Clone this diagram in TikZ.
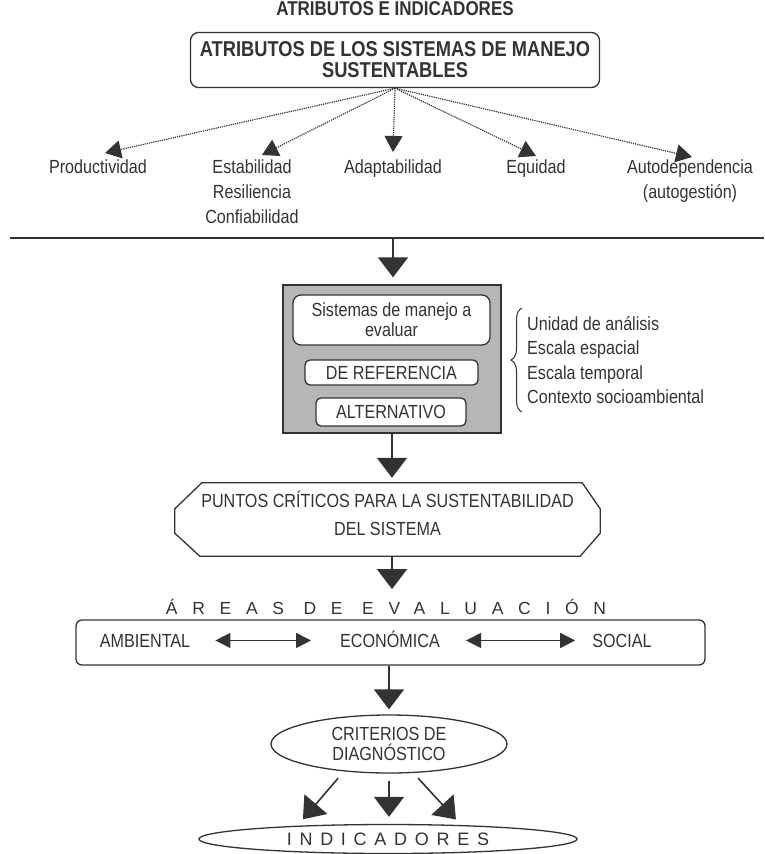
\documentclass[tikz,border=0pt]{standalone}
\usepackage{fontspec}
\setmainfont{Liberation Sans}[FakeStretch=0.85]
\newfontfamily\spacedfont{Liberation Sans}
\usetikzlibrary{arrows.meta,shapes.geometric,decorations.pathreplacing}
\definecolor{ink}{HTML}{333333}
\definecolor{shade}{HTML}{B6B6B6}
\tikzset{
  txt/.style={inner sep=0pt,text=ink,font=\fontsize{19}{25}\selectfont,align=center},
  rbox/.style={draw=ink,line width=1.3pt,rounded corners=8pt,fill=white,inner sep=0pt},
  flow/.style={draw=ink,line width=1.6pt,-{Triangle[length=20pt,width=30pt]}},
  dots/.style={draw=ink,line width=1.2pt,densely dotted,-{Triangle[length=16pt,width=18pt]}},
  both/.style={draw=ink,line width=1.2pt,{Triangle[length=15pt,width=15pt]}-{Triangle[length=15pt,width=15pt]}},
}
\begin{document}
\begin{tikzpicture}[x=1pt,y=-1pt]
\useasboundingbox (0,0) rectangle (764,854);
%header
\node[txt,anchor=base,font=\bfseries\fontsize{20}{22}\selectfont] (hdr) at (395,15) {ATRIBUTOS E INDICADORES};
%attributes
\node[rbox,txt,minimum width=409pt,minimum height=55pt,font=\bfseries\fontsize{21.5}{21}\selectfont] (attr) at (395,60) {ATRIBUTOS DE LOS SISTEMAS DE MANEJO\\SUSTENTABLES};
\node[txt,anchor=north] (prod) at (98,160) {Productividad};
\node[txt,anchor=north] (estab) at (252,160) {Estabilidad\\Resiliencia\\Confiabilidad};
\node[txt,anchor=north] (adapt) at (393,160) {Adaptabilidad};
\node[txt,anchor=north] (equi) at (536,160) {Equidad};
\node[txt,anchor=north] (auto) at (690,160) {Autodependencia\\(autogestión)};
\draw[dots] (attr.south) -- ([shift={(7,-7)}]prod.north);
\draw[dots] (attr.south) -- ([shift={(10,-5)}]estab.north);
\draw[dots] (attr.south) -- ([shift={(0,-8)}]adapt.north);
\draw[dots] (attr.south) -- ([shift={(0,-4)}]equi.north);
\draw[dots] (attr.south) -- ([shift={(2,-3)}]auto.north);
%rule
\draw[draw=ink,line width=1.3pt] (10,238) -- (764,238);
\coordinate (split) at (393,238);
%systems
\node[draw=ink,line width=1.3pt,fill=shade,minimum width=218pt,minimum height=148pt,inner sep=0pt] (sys) at (392,359) {};
\node[rbox,txt,minimum width=197pt,minimum height=50pt,font=\fontsize{19}{20}\selectfont] (sis) at (391.5,320) {Sistemas de manejo a\\evaluar};
\node[rbox,txt,minimum width=173pt,minimum height=25pt,rounded corners=5pt] (ref) at (391.5,372.5) {DE REFERENCIA};
\node[rbox,txt,minimum width=150pt,minimum height=28pt,rounded corners=5pt] (alt) at (391,412) {ALTERNATIVO};
\node[txt,align=left,anchor=north west,font=\fontsize{19}{24.5}\selectfont] (ctx) at (527,316) {Unidad de análisis\\Escala espacial\\Escala temporal\\Contexto socioambiental};
\draw[draw=ink,line width=1pt,decorate,decoration={brace,amplitude=11pt}] ([shift={(-5,8)}]ctx.south west) -- ([shift={(-5,-8)}]ctx.north west);
\draw[flow,shorten >=7pt] (split) -- (split |- sys.north);
%critical points
\node[txt,minimum width=425pt,minimum height=73pt,font=\fontsize{19}{28}\selectfont] (crit) at (387.5,519.5) {PUNTOS CRÍTICOS PARA LA SUSTENTABILIDAD\\DEL SISTEMA\rule[-12pt]{0pt}{0pt}};
\draw[draw=ink,line width=1.3pt] ([shift={(27,0)}]crit.north west) -- ([shift={(-18,0)}]crit.north east) -- ([shift={(0,26)}]crit.north east) -- ([shift={(0,-23)}]crit.south east) -- ([shift={(-20,0)}]crit.south east) -- ([shift={(25,0)}]crit.south west) -- ([shift={(0,-23)}]crit.south west) -- ([shift={(0,26)}]crit.north west) -- cycle;
\draw[flow,shorten >=5pt] (sys.south) -- (sys.south |- crit.north);
%areas
\node[txt,font=\spacedfont\fontsize{17.5}{20}\selectfont\addfontfeatures{LetterSpace=84}] (atit) at (386,607) {ÁREAS DE EVALUACIÓN};
\draw[flow,shorten >=10pt] (sys.south |- crit.south) -- (sys.south |- atit.north);
\node[rbox,minimum width=629pt,minimum height=45pt,rounded corners=6pt] (area) at (390.5,642.5) {};
\node[txt,anchor=base] (amb) at (145,647) {AMBIENTAL};
\node[txt,anchor=base] (eco) at (390,647) {ECONÓMICA};
\node[txt,anchor=base] (soc) at (622,647) {SOCIAL};
\draw[both,shorten <=25pt,shorten >=29pt] (amb.east) -- (amb.east -| eco.west);
\draw[both,shorten <=26pt,shorten >=17pt] (eco.east |- amb.east) -- (soc.west |- amb.east);
%diagnosis
\node[draw=ink,line width=1.3pt,ellipse,txt,minimum width=236pt,minimum height=58pt,font=\fontsize{19}{20}\selectfont] (diag) at (389,744) {CRITERIOS DE\\DIAGNÓSTICO};
\draw[flow,shorten >=5pt] (area.south -| diag.north) -- (diag.north);
\node[draw=ink,line width=1.3pt,ellipse,txt,minimum width=378pt,minimum height=29pt,font=\spacedfont\fontsize{18}{20}\selectfont\addfontfeatures{LetterSpace=43}] (ind) at (388,839) {INDICADORES};
\draw[flow,shorten <=6pt,shorten >=6pt] ([xshift=-47pt]diag.south) -- ([xshift=-89pt]ind.north);
\draw[flow,shorten <=7pt,shorten >=7pt] (diag.south) -- (diag.south |- ind.north);
\draw[flow,shorten <=6pt,shorten >=6pt] ([xshift=25pt]diag.south) -- ([xshift=72pt]ind.north);
\end{tikzpicture}
\end{document}
